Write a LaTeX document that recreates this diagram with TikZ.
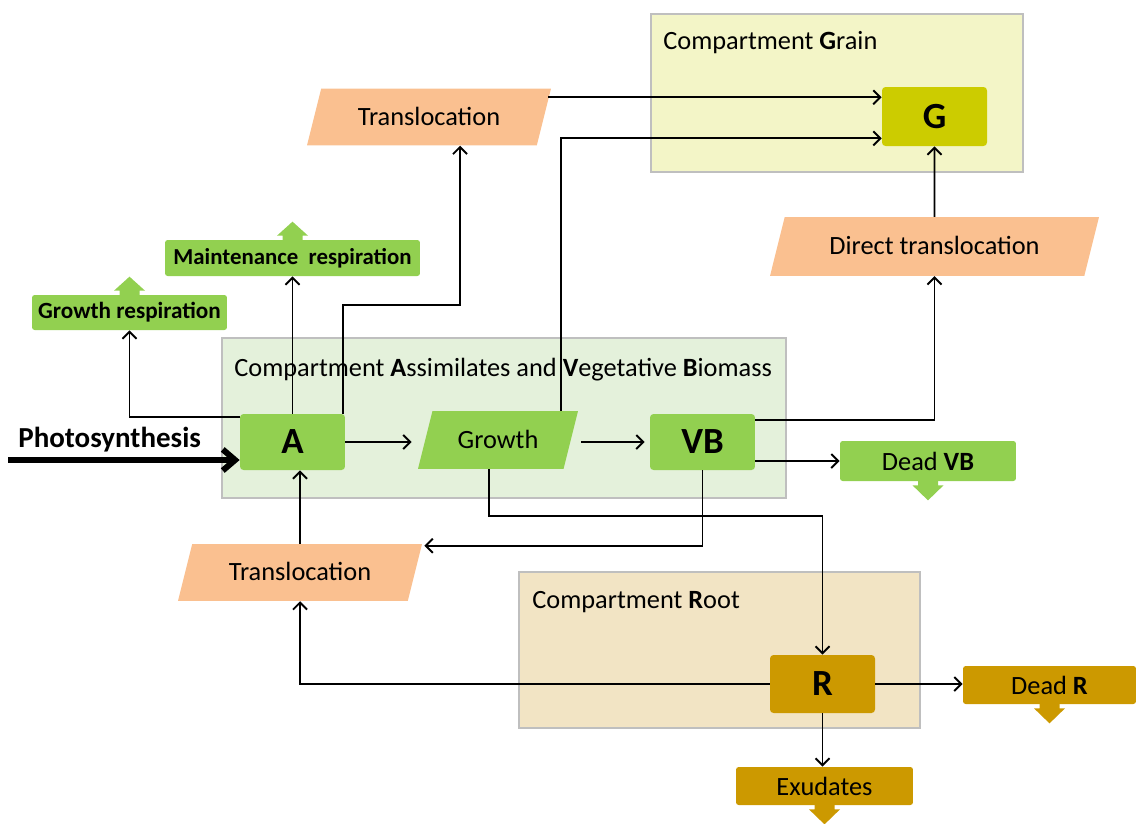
\documentclass[tikz,border=0pt]{standalone}
\usepackage{fontspec}
\setmainfont{Carlito}
\usetikzlibrary{arrows.meta,calc,shapes.geometric}
\definecolor{leaf}{HTML}{92D050}
\definecolor{peach}{HTML}{FAC090}
\definecolor{palegreen}{HTML}{E4F1DB}
\definecolor{paleyellow}{HTML}{F3F5C7}
\definecolor{paletan}{HTML}{F2E4C4}
\definecolor{olive}{HTML}{CCCC00}
\definecolor{ochre}{HTML}{CC9900}
\definecolor{framegray}{HTML}{BFBFBF}

\begin{document}
\begin{tikzpicture}[x=0.02cm,y=-0.02cm,
 txt/.style={font=\fontsize{15}{18}\selectfont},
 comp/.style={draw=framegray,line width=1.6pt,inner sep=0pt},
 pool/.style={rounded corners=2pt,inner sep=0pt,minimum width=2.1cm,font=\fontsize{21}{24}\selectfont\bfseries},
 flux/.style={trapezium,trapezium left angle=76,trapezium right angle=104,trapezium stretches body=true,fill=peach,inner xsep=0pt,inner ysep=9.4pt,text height=11.4pt,text depth=2.1pt,txt},
 loss/.style={rounded corners=1.5pt,inner sep=0pt,txt},
 arr/.style={-{Straight Barb[length=4pt,width=8pt]},line width=1.1pt},
 uptab/.pic={\path[pic actions] (-10,1) -- (-10,-4) -- (-15.5,-4) -- (0,-18) -- (15.5,-4) -- (10,-4) -- (10,1) -- cycle;},
 downtab/.pic={\path[pic actions] (-10,-1) -- (-10,4) -- (-15.5,4) -- (0,19) -- (15.5,4) -- (10,4) -- (10,-1) -- cycle;}]
\useasboundingbox (0,0) rectangle (1136,823);

% compartments
\node[comp,fill=paleyellow,minimum width=7.44cm,minimum height=3.16cm] (cG) at (837,93) {};
\node[comp,fill=palegreen,minimum width=11.28cm,minimum height=3.2cm] (cAV) at (504,418) {};
\node[comp,fill=paletan,minimum width=8.02cm,minimum height=3.12cm] (cR) at (719.5,650) {};
\node[txt,anchor=base west,inner sep=0pt] (tG) at (663,49) {Compartment \textbf{G}rain};
\node[txt,anchor=base west,inner sep=0pt] (tAV) at (234,376) {Compartment \textbf{A}ssimilates and \textbf{V}egetative \textbf{B}iomass};
\node[txt,anchor=base west,inner sep=0pt] (tR) at (532,608) {Compartment \textbf{R}oot};

% pools
\node[pool,fill=leaf,minimum height=1.12cm] (A) at (292.5,442) {A};
\node[pool,fill=leaf,minimum height=1.12cm] (VB) at (702.5,442) {VB};
\node[pool,fill=olive,minimum height=1.18cm] (G) at (934.5,116.5) {G};
\node[pool,fill=ochre,minimum height=1.16cm] (R) at (822.5,684) {R};

% fluxes
\node[flux,fill=leaf,minimum width=3.2cm,inner ysep=9.7pt] (Gro) at (498,440) {Growth};
\node[flux,minimum width=4.88cm] (TrT) at (429,117) {Translocation};
\node[flux,minimum width=4.88cm] (TrB) at (300,572.5) {Translocation};
\node[flux,minimum width=6.58cm,inner ysep=9.95pt] (DT) at (934.5,246.5) {Direct translocation};

% losses
\node[loss,fill=leaf,font=\fontsize{13}{15}\selectfont\bfseries,minimum width=5.1cm,minimum height=0.72cm] (MR) at (292.5,258) {Maintenance\ \ respiration};
\node[loss,fill=leaf,font=\fontsize{13.2}{15}\selectfont\bfseries,minimum width=3.9cm,minimum height=0.7cm] (GR) at (129.5,312.5) {Growth respiration};
\node[loss,fill=leaf,minimum width=3.52cm,minimum height=0.8cm] (DVB) at (928,461) {Dead \textbf{VB}};
\node[loss,fill=ochre,minimum width=3.46cm,minimum height=0.76cm] (DR) at (1049.5,685) {Dead \textbf{R}};
\node[loss,fill=ochre,minimum width=3.54cm,minimum height=0.76cm] (Ex) at (824.5,786) {Exudates};
\pic[fill=leaf] at (MR.north) {uptab};
\pic[fill=leaf] at (GR.north) {uptab};
\pic[fill=leaf] at (DVB.south) {downtab};
\pic[fill=ochre] at (DR.south) {downtab};
\pic[fill=ochre] at (Ex.south) {downtab};

% photosynthesis input
\coordinate (sun) at (8,460);
\node[font=\fontsize{16.5}{19}\selectfont\bfseries,anchor=base west,inner sep=0pt] (ph) at (18,447) {Photosynthesis};
\draw[line width=3.4pt,-{Straight Barb[length=7pt,width=12pt]}] (sun) -- (sun -| A.west);

% flows
\draw[arr] ($(A.north west)+(0,3)$) -| (GR.south);
\draw[arr] (A.north) -- (A.north |- MR.south);
\draw[arr] ($(A.north east)+(-2,0)$) -- ++(0,-109) -| ($(TrT.south)+(31,0)$);
\draw[arr] ($(TrT.top right corner)+(-3,9)$) coordinate (t1) -- (t1 -| G.west);
\draw[arr] ($(Gro.north)+(63,0)$) |- ($(G.south west)+(0,-8)$);
\draw[arr] (A.east) -- ($(Gro.bottom left corner |- A.east)+(-6,0)$);
\draw[arr] ($(Gro.top right corner |- VB.west)+(3,0)$) -- ($(VB.west)+(-5,0)$);
\draw[arr] ($(VB.north east)+(0,6)$) -| (DT.south);
\draw[arr] (DT.north) -- (G.south);
\draw[arr] (VB.east |- DVB.west) -- (DVB.west);
\draw[arr] (VB.south) |- ($(TrB.top right corner)+(2,2)$);
\draw[arr] ($(Gro.south)+(-9,0)$) -- ++(0,47) -| (R.north);
\draw[arr] (TrB.north) -- (TrB.north |- A.south);
\draw[arr] (R.west) -| (TrB.south);
\draw[arr] (R.east) -- (R.east -| DR.west);
\draw[arr] (R.south) -- (R.south |- Ex.north);
\end{tikzpicture}
\end{document}
